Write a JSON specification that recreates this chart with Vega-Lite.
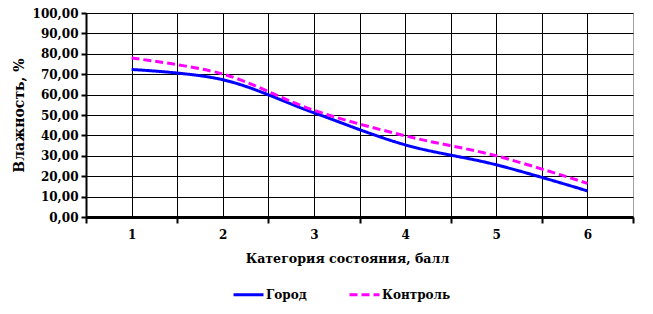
{
  "$schema": "https://vega.github.io/schema/vega-lite/v6.json",
  "width": 547,
  "height": 204,
  "autosize": "none",
  "padding": {"left": 86, "top": 13, "right": 20, "bottom": 97},
  "background": "white",
  "config": {
    "view": {"stroke": "#a0a0a0", "strokeWidth": 1},
    "font": "DejaVu Serif"
  },
  "data": {
    "values": [
      {"category": 1, "series": "Город", "value": 72.3},
      {"category": 2, "series": "Город", "value": 67.3},
      {"category": 3, "series": "Город", "value": 51.1},
      {"category": 4, "series": "Город", "value": 35.4},
      {"category": 5, "series": "Город", "value": 25.6},
      {"category": 6, "series": "Город", "value": 12.8},
      {"category": 1, "series": "Контроль", "value": 77.9},
      {"category": 2, "series": "Контроль", "value": 70.1},
      {"category": 3, "series": "Контроль", "value": 52.3},
      {"category": 4, "series": "Контроль", "value": 39.8},
      {"category": 5, "series": "Контроль", "value": 30.0},
      {"category": 6, "series": "Контроль", "value": 16.5}
    ]
  },
  "mark": {"type": "line", "interpolate": "catmull-rom", "strokeWidth": 3},
  "encoding": {
    "x": {
      "field": "category",
      "type": "quantitative",
      "scale": {"domain": [0.5, 6.5], "nice": false, "zero": false},
      "axis": {
        "values": [0.5, 1, 1.5, 2, 2.5, 3, 3.5, 4, 4.5, 5, 5.5, 6, 6.5],
        "labelExpr": "datum.value % 1 == 0 ? datum.value : ''",
        "grid": true,
        "gridColor": "black",
        "gridWidth": 1,
        "gridOpacity": {"condition": {"test": "datum.value == 6.5", "value": 0}, "value": 1},
        "tickOpacity": {"condition": {"test": "datum.value % 1 == 0", "value": 0}, "value": 1},
        "tickSize": 6,
        "tickColor": "black",
        "tickWidth": 2,
        "domainColor": "black",
        "domainWidth": 3,
        "labelFont": "DejaVu Serif",
        "labelFontWeight": "bold",
        "labelFontSize": 12,
        "labelColor": "black",
        "labelPadding": 6,
        "labelFlush": false,
        "labelOverlap": false,
        "title": "Категория состояния, балл",
        "titleFont": "DejaVu Serif",
        "titleFontSize": 12.6,
        "titleFontWeight": "bold",
        "titleColor": "black",
        "titlePadding": 12,
        "titleX": 261
      }
    },
    "y": {
      "field": "value",
      "type": "quantitative",
      "scale": {"domain": [0, 100], "nice": false},
      "axis": {
        "values": [0, 10, 20, 30, 40, 50, 60, 70, 80, 90, 100],
        "labelExpr": "replace(format(datum.value, '.2f'), '.', ',')",
        "grid": true,
        "gridColor": "black",
        "gridWidth": 1,
        "tickSize": 5,
        "tickColor": "black",
        "tickWidth": 2,
        "domainColor": "black",
        "domainWidth": 2,
        "labelFont": "DejaVu Serif",
        "labelFontWeight": "bold",
        "labelFontSize": 12,
        "labelColor": "black",
        "labelPadding": 3,
        "labelFlush": false,
        "labelOverlap": false,
        "title": "Влажность, %",
        "titleFont": "DejaVu Serif",
        "titleFontSize": 14,
        "titleFontWeight": "bold",
        "titleColor": "black",
        "titlePadding": 6
      }
    },
    "color": {
      "field": "series",
      "type": "nominal",
      "scale": {"domain": ["Город", "Контроль"], "range": ["#0000ff", "#ff00ff"]},
      "legend": {
        "title": null,
        "orient": "none",
        "legendX": 146,
        "legendY": 265,
        "direction": "horizontal",
        "symbolType": "stroke",
        "symbolSize": 900,
        "symbolStrokeWidth": 3,
        "labelFont": "DejaVu Serif",
        "labelFontWeight": "bold",
        "labelFontSize": 12,
        "labelColor": "black",
        "labelOffset": 1,
        "columnPadding": 36
      }
    },
    "strokeDash": {
      "field": "series",
      "type": "nominal",
      "scale": {"domain": ["Город", "Контроль"], "range": [[1, 0], [8, 4]]},
      "legend": {
        "title": null,
        "orient": "none",
        "legendX": 146,
        "legendY": 265,
        "direction": "horizontal",
        "symbolType": "stroke",
        "symbolSize": 900,
        "symbolStrokeWidth": 3,
        "labelFont": "DejaVu Serif",
        "labelFontWeight": "bold",
        "labelFontSize": 12,
        "labelColor": "black",
        "labelOffset": 1,
        "columnPadding": 36
      }
    }
  }
}
